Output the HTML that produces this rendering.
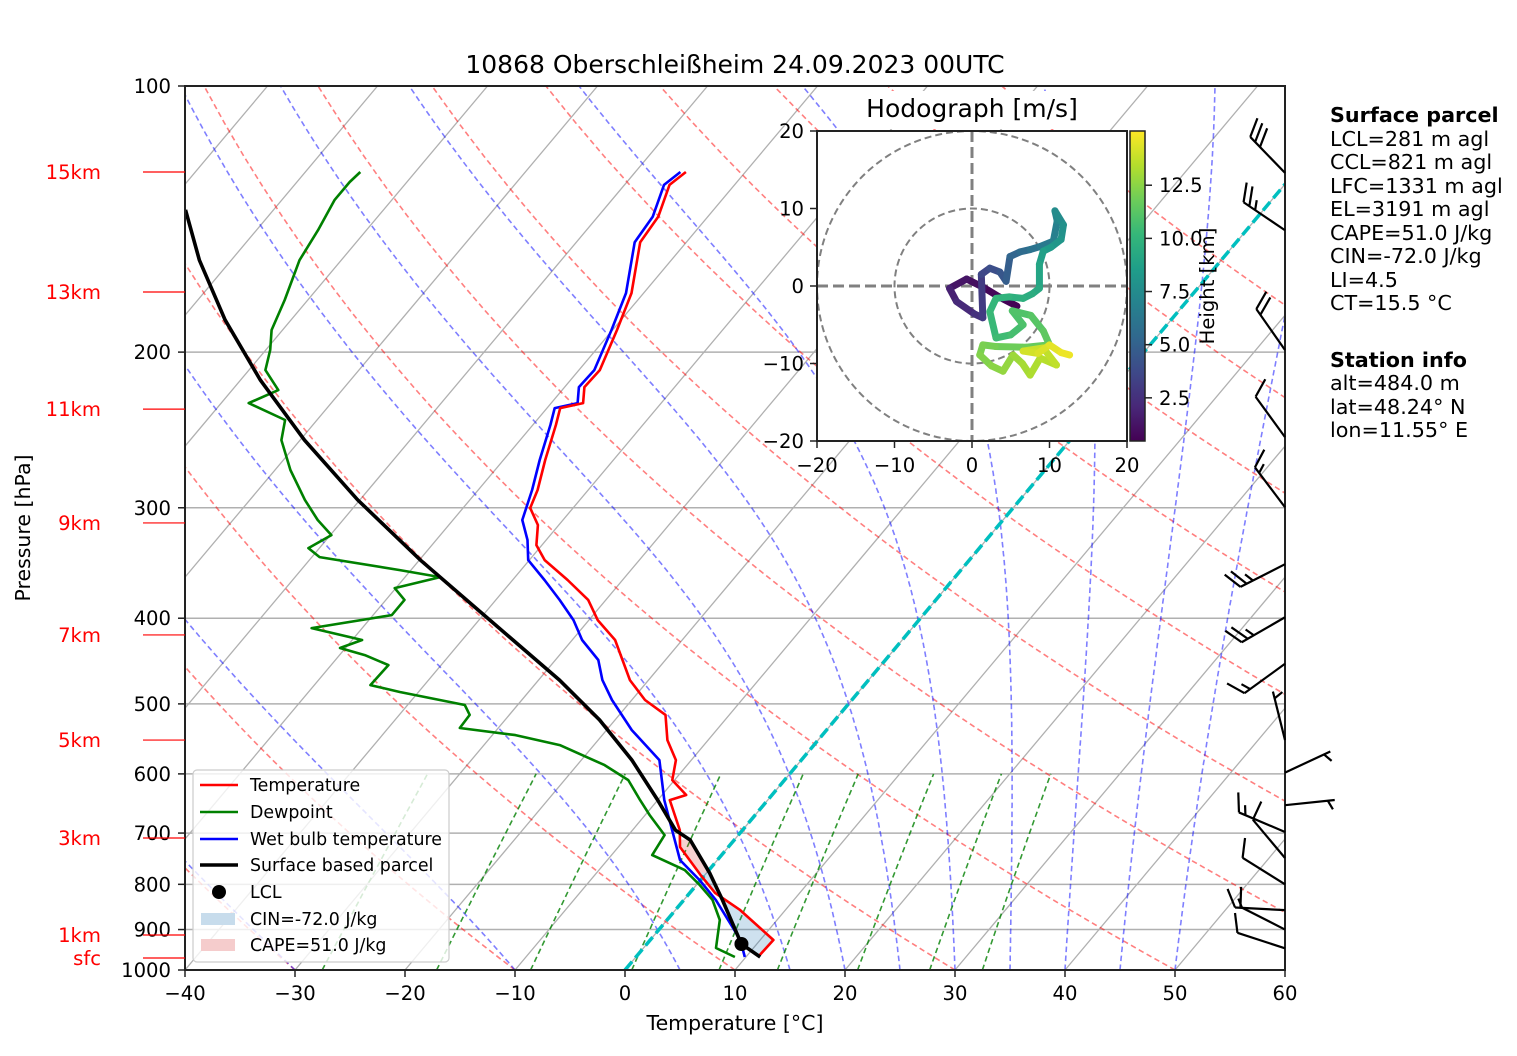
<!DOCTYPE html>
<html><head><meta charset="utf-8"><style>
body{margin:0;background:#fff;}
svg{display:block;font-family:"DejaVu Sans","Liberation Sans",sans-serif;}
</style></head><body>
<svg id="chart" width="1517" height="1056" viewBox="0 0 1517 1056" xmlns="http://www.w3.org/2000/svg">
<defs><clipPath id="plotclip"><rect x="185" y="86" width="1100" height="884"/></clipPath></defs>
<rect x="0" y="0" width="1517" height="1056" fill="#fff"/>
<g id="bg" clip-path="url(#plotclip)"></g>
<g id="marks" clip-path="url(#plotclip)"></g>
<rect x="185" y="86" width="1100" height="884" fill="none" stroke="#222" stroke-width="2"/>
<g id="axes"></g>
<text x="735" y="73" text-anchor="middle" font-size="25">10868 Oberschleißheim 24.09.2023 00UTC</text>
<text x="735" y="1030" text-anchor="middle" font-size="20.5">Temperature [°C]</text>
<text transform="translate(30,528) rotate(-90)" text-anchor="middle" font-size="20.5">Pressure [hPa]</text>
<g id="legend" font-size="17.4">
<rect x="193" y="770" width="256" height="192" rx="4" fill="#fff" fill-opacity="0.8" stroke="#ccc" stroke-width="1.2"/>
<g><line x1="200" y1="785" x2="238" y2="785" stroke="#f00" stroke-width="2.5"/><text x="250" y="791">Temperature</text></g>
<g><line x1="200" y1="812" x2="238" y2="812" stroke="#008000" stroke-width="2.5"/><text x="250" y="818">Dewpoint</text></g>
<g><line x1="200" y1="839" x2="238" y2="839" stroke="#00f" stroke-width="2.5"/><text x="250" y="845">Wet bulb temperature</text></g>
<g><line x1="200" y1="865" x2="238" y2="865" stroke="#000" stroke-width="3.5"/><text x="250" y="871">Surface based parcel</text></g>
<g><circle cx="219" cy="892" r="7" fill="#000"/><text x="250" y="898">LCL</text></g>
<g><rect x="201" y="913" width="34" height="12" fill="#c7dcec"/><text x="250" y="925">CIN=-72.0 J/kg</text></g>
<g><rect x="201" y="939" width="34" height="12" fill="#f5cccc"/><text x="250" y="951">CAPE=51.0 J/kg</text></g>
</g>
<g id="barbs"></g>
<g id="hodo"></g>
<g font-size="20.7">
<text x="1330" y="122" font-weight="bold">Surface parcel</text>
<text x="1330" y="146">LCL=281 m agl</text>
<text x="1330" y="169">CCL=821 m agl</text>
<text x="1330" y="193">LFC=1331 m agl</text>
<text x="1330" y="216">EL=3191 m agl</text>
<text x="1330" y="240">CAPE=51.0 J/kg</text>
<text x="1330" y="263">CIN=-72.0 J/kg</text>
<text x="1330" y="287">LI=4.5</text>
<text x="1330" y="310">CT=15.5 °C</text>
<text x="1330" y="367" font-weight="bold">Station info</text>
<text x="1330" y="390">alt=484.0 m</text>
<text x="1330" y="414">lat=48.24° N</text>
<text x="1330" y="437">lon=11.55° E</text>
</g>
</svg>
<script>
// ---- data ----
const tempP = [966.7,924.9,855.6,818,780.6,725.8,694.6,642.4,634,609.8,578.8,549.4,514.6,495,469.9,446,423.4,402,381.4,362.1,343.8,330.6,313.8,300.2,286.4,264.9,241.8,231.4,228.4,219.1,209.6,188.8,171.5,150.2,140.6,129.4,125.1];
const tempT = [11.1,11.2,5.9,2.3,-0.4,-4.4,-5.7,-8.9,-7.8,-10.2,-11.4,-13.7,-15.8,-18.8,-21.7,-23.9,-26.1,-29.2,-31.6,-35,-38.6,-40.5,-41.9,-43.9,-44.6,-46.2,-47.9,-48.8,-47.1,-48.2,-48.1,-49.6,-51.1,-54.2,-54.5,-55.9,-55.4];
const wetP = [966.7,924.9,833,791,750.8,694.6,642.4,578.8,535.3,495,469.9,446,423.4,402,381.4,362.1,343.8,326.3,309.7,286.4,264.9,241.8,231.4,228.4,219.1,209.6,188.8,171.5,150.2,140.6,129.4,125.1];
const wetT = [9.9,8.2,2.9,-0.1,-3.4,-6.4,-9.4,-12.9,-17.7,-21.8,-24.2,-26.1,-29.1,-31.4,-34.2,-37.1,-40.1,-41.7,-43.7,-45.1,-46.7,-48.4,-49.3,-47.6,-48.7,-48.6,-50.1,-51.6,-54.7,-55,-56.4,-55.9];
const dewP = [966.7,944.4,877.9,833,801.4,770.8,741.3,703.8,667.9,642.4,609.8,586.4,556.6,542.3,532.4,514.6,501.4,484.8,476.1,451.9,440.3,432.3,423.4,410.4,396.8,381.4,369.8,359.4,352.9,341.1,333.2,322.1,309.7,293.9,271.9,251.5,238.7,228.4,220.8,209.6,198.9,188.8,174.6,157.4,145.6,134.6,128.4,125.1];
const dewT = [9.0,6.6,4.8,2.6,0.3,-2.2,-6.3,-6.7,-9.6,-11.6,-14.2,-17.5,-23.1,-27.9,-33.5,-33.6,-34.8,-41.7,-44.9,-44.8,-47.7,-50.5,-49.1,-54.6,-48.3,-48.3,-50.1,-46.8,-51,-59.3,-61,-59.9,-62.3,-65,-68.6,-71.7,-72.9,-77.5,-75.8,-78.5,-79.6,-81,-82.1,-83.8,-84.4,-85.2,-85.2,-85];
const parcelP = [966.7,934.5,833,776.9,712.8,694.6,642.4,578.8,521.4,469.9,402,343.8,293.9,251.5,215.1,183.9,157.4,138.1];
const parcelT = [11.3,8.6,3.5,0.3,-4,-6.1,-10,-15.4,-21.4,-28.1,-39,-49.9,-60.2,-69.6,-78.2,-86,-92.9,-98];
const lclP = 934.5, lclT = 8.6;
const pTicks = [100,200,300,400,500,600,700,800,900,1000];
const tTicks = [-40,-30,-20,-10,0,10,20,30,40,50,60];
const kmLabels = ['15km','13km','11km','9km','7km','5km','3km','1km','sfc'];
const kmP = [125.1,171.0,232.0,312.1,417.8,549.4,709.1,912.8,969.2];
const barbP = [125.4,145.6,198.9,249.6,299.6,347.5,399,450.4,549.4,598,651,698,747,800,855.6,900,945];
const barbAng = [-134,-146,-125,-126,-127,153,150,144,-104,-25,-6,-157,-130,-148,-177,-153,-162];
const barbSpd = [30,25,20,10,15,25,25,15,5,5,5,15,10,10,15,10,10];
const hodoU = [5.8,3.5,1.5,-0.7,-2.9,-2.0,0.3,1.4,1.2,2.3,3.6,4.4,4.9,6.2,7.5,8.8,10.5,11,10.7,11.8,11.5,10.2,9.2,8.7,8.7,7.8,6.6,4.8,3.1,2.3,3.1,5,6.6,5.2,7.6,9.2,10,7,3,1.4,1,2.5,4,5.3,6.5,7.5,8.8,10.9,9.2,6.6,8.5,10,11.5,12.6];
const hodoV = [-2.6,-1.4,-0.2,0.9,-0.3,-2,-3.6,-4.1,1.5,2.3,1.8,0.6,3.8,4.4,4.7,5.1,5.8,8.4,9.7,7.9,6,5,4.5,2.8,-0.3,-1,-1.6,-1.4,-1.6,-3.3,-6.7,-6.3,-5,-3.2,-3.8,-5.8,-7.6,-7.9,-7.8,-7.6,-8.9,-10.3,-11,-8.9,-10,-11.5,-9.3,-10.2,-8,-8.4,-8.7,-7.6,-8.6,-8.9];
const hodoH = [0.5,0.7,1.0,1.3,1.8,2.2,2.6,3.0,3.6,4.0,4.4,4.8,5.2,5.6,6.0,6.4,6.8,7.2,7.5,7.8,8.1,8.4,8.7,9.0,9.3,9.5,9.7,9.9,10.1,10.3,10.5,10.7,10.9,11.0,11.2,11.4,11.6,11.8,12.0,12.1,12.3,12.5,12.7,12.9,13.1,13.3,13.5,13.7,13.9,14.1,14.3,14.5,14.7,14.9];
const cbTicks = [2.5,5.0,7.5,10.0,12.5];
const hodoTicks = [-20,-10,0,10,20];
const dryT0 = [-30,-10,10,30,50,70,90,110,130,150,170,190];
const moistT0 = [-30,-10,5,15,20,25,30,35,40,45,50];
const mixW = [0.0004,0.001,0.002,0.004,0.007,0.01,0.016,0.024,0.032];

// ---- scales ----
const X0=185, XW=1100, Y0=86, YH=884, SK=0.84;
function yOf(p){return Y0+YH*Math.log10(p/100);}
function xOf(T,p){return X0+(T+40)*11+(970-yOf(p))*SK;}
const NS='http://www.w3.org/2000/svg';
function mk(tag,attrs,parent){const e=document.createElementNS(NS,tag);for(const k in attrs)e.setAttribute(k,attrs[k]);parent.appendChild(e);return e;}
const bg=document.getElementById('bg'), marks=document.getElementById('marks'), axes=document.getElementById('axes');
function pathFrom(Ts,Ps){return Ts.map((t,i)=>(i?'L':'M')+xOf(t,Ps[i]).toFixed(1)+','+yOf(Ps[i]).toFixed(1)).join('');}

pTicks.forEach(p=>{const l=mk('line',{x1:X0,x2:X0+XW,y1:yOf(p),y2:yOf(p),stroke:'#b0b0b0','stroke-width':1.5},bg);

});
for(let t=-170;t<=60;t+=10){const l=mk('line',{x1:xOf(t,1000),y1:yOf(1000),x2:xOf(t,100),y2:yOf(100),stroke:'#b0b0b0','stroke-width':1.3},bg);

}
dryT0.forEach(t0=>{const th=t0+273.15;const Ts=[],Ps=[];for(let p=1000;p>=100;p-=10){Ps.push(p);Ts.push(th*Math.pow(p/1000,0.2857)-273.15);}
const e=mk('path',{d:pathFrom(Ts,Ps),fill:'none',stroke:'#ff0000','stroke-opacity':0.5,'stroke-width':1.6,'stroke-dasharray':'5.5,3.5'},bg);

});
moistT0.forEach(t0=>{let T=t0+273.15;const Ts=[],Ps=[];const Rd=287.04,Cp=1005.7,Lv=2.501e6,eps=0.622;
for(let p=1000;p>=100;p-=2){Ps.push(p);Ts.push(T-273.15);const es=6.112*Math.exp(17.67*(T-273.15)/(T-29.65));const rs=eps*es/(p-es);
const dTdp=(Rd*T+Lv*rs)/(Cp+Lv*Lv*rs*eps/(Rd*T*T))/p;T-=dTdp*2;}
const e=mk('path',{d:pathFrom(Ts,Ps),fill:'none',stroke:'#0000ff','stroke-opacity':0.5,'stroke-width':1.6,'stroke-dasharray':'5.5,3.5'},bg);

});
mixW.forEach(w=>{const Ts=[],Ps=[];for(let p=1000;p>=600;p-=20){const e=p*w/(0.622+w);const l=Math.log(e/6.112);Ps.push(p);Ts.push(243.5*l/(17.67-l));}
const e=mk('path',{d:pathFrom(Ts,Ps),fill:'none',stroke:'#008000','stroke-opacity':0.8,'stroke-width':1.6,'stroke-dasharray':'5.5,3.5'},bg);

});
{const e=mk('line',{x1:xOf(0,1000),y1:yOf(1000),x2:xOf(0,100),y2:yOf(100),stroke:'#00bfbf','stroke-width':3.5,'stroke-dasharray':'11,5'},bg);

}

function interp(Ps,Ts,p){for(let i=0;i<Ps.length-1;i++){if(p<=Ps[i]&&p>=Ps[i+1]){const f=(Ps[i]-p)/(Ps[i]-Ps[i+1]);return Ts[i]+f*(Ts[i+1]-Ts[i]);}}return Ts[Ts.length-1];}
{let up='',down=[];for(let p=966;p>=776;p-=5){up+=(up?'L':'M')+xOf(interp(parcelP,parcelT,p),p).toFixed(1)+','+yOf(p).toFixed(1);down.push('L'+xOf(interp(tempP,tempT,p),p).toFixed(1)+','+yOf(p).toFixed(1));}
const e=mk('path',{d:up+down.reverse().join('')+'Z',fill:'#1f77b4','fill-opacity':0.22,stroke:'none'},marks);

}
{let up='',down=[];for(let p=776;p>=712;p-=4){up+=(up?'L':'M')+xOf(interp(parcelP,parcelT,p),p).toFixed(1)+','+yOf(p).toFixed(1);down.push('L'+xOf(interp(tempP,tempT,p),p).toFixed(1)+','+yOf(p).toFixed(1));}
const e=mk('path',{d:up+down.reverse().join('')+'Z',fill:'#d62728','fill-opacity':0.22,stroke:'none'},marks);

}

{const e=mk('path',{d:pathFrom(dewT,dewP),fill:'none',stroke:'#008000','stroke-width':2.6,'stroke-linejoin':'round'},marks);

}
{const e=mk('path',{d:pathFrom(wetT,wetP),fill:'none',stroke:'#0000ff','stroke-width':2.6,'stroke-linejoin':'round'},marks);

}
{const e=mk('path',{d:pathFrom(tempT,tempP),fill:'none',stroke:'#ff0000','stroke-width':2.6,'stroke-linejoin':'round'},marks);

}
{const e=mk('path',{d:pathFrom(parcelT,parcelP),fill:'none',stroke:'#000','stroke-width':3.6},marks);

}
{const e=mk('circle',{cx:xOf(lclT,lclP),cy:yOf(lclP),r:7,fill:'#000'},marks);

}

pTicks.forEach(p=>{mk('line',{x1:178,x2:185,y1:yOf(p),y2:yOf(p),stroke:'#222','stroke-width':1.5},axes);
const t=mk('text',{x:171,y:yOf(p)+7,'text-anchor':'end','font-size':19.6},axes);t.textContent=p;

});
tTicks.forEach(v=>{const x=X0+(v+40)*11;mk('line',{x1:x,x2:x,y1:970,y2:977,stroke:'#222','stroke-width':1.5},axes);
const t=mk('text',{x:x,y:1000,'text-anchor':'middle','font-size':19.6},axes);t.textContent=(v<0?'\u2212':'')+Math.abs(v);

});
kmLabels.forEach((s,i)=>{const y=yOf(kmP[i]);mk('line',{x1:143,x2:185,y1:y,y2:y,stroke:'#f00','stroke-width':1.2},axes);
const t=mk('text',{x:101,y:y+7,'text-anchor':'end','font-size':19.6,fill:'#f00'},axes);t.textContent=s;

});

const barbs=document.getElementById('barbs');
barbP.forEach((p,i)=>{const bx=1285,by=yOf(p),a=barbAng[i]*Math.PI/180,L=50;
const tx=bx+L*Math.cos(a),ty=by+L*Math.sin(a);
const g=mk('g',{stroke:'#000','stroke-width':2.2,fill:'none'},barbs);


mk('line',{x1:bx,y1:by,x2:tx,y2:ty},g);
const ba=a+65*Math.PI/180;let s=barbSpd[i],k=0;
while(s>=10){const px=tx-k*7*Math.cos(a),py=ty-k*7*Math.sin(a);mk('line',{x1:px,y1:py,x2:px+20*Math.cos(ba),y2:py+20*Math.sin(ba)},g);s-=10;k++;}
if(s>=5){if(k===0)k=1;const px=tx-k*7*Math.cos(a),py=ty-k*7*Math.sin(a);mk('line',{x1:px,y1:py,x2:px+10*Math.cos(ba),y2:py+10*Math.sin(ba)},g);}
});

const hodo=document.getElementById('hodo');
const HX=972,HY=286,HS=7.75;
mk('rect',{x:817,y:131,width:310,height:310,fill:'#fff'},hodo);
mk('rect',{x:858,y:91,width:229,height:38,fill:'#fff'},hodo);
{const t=mk('text',{x:972,y:117,'text-anchor':'middle','font-size':25},hodo);t.textContent='Hodograph [m/s]';

}
[10,20].forEach(r=>{mk('circle',{cx:HX,cy:HY,r:r*HS,fill:'none',stroke:'#808080','stroke-width':2,'stroke-dasharray':'7,4'},hodo);});
mk('line',{x1:817,x2:1127,y1:HY,y2:HY,stroke:'#808080','stroke-width':3,'stroke-dasharray':'11,5'},hodo);
mk('line',{x1:HX,x2:HX,y1:131,y2:441,stroke:'#808080','stroke-width':3,'stroke-dasharray':'11,5'},hodo);
const vir=[[68,1,84],[72,40,120],[62,73,137],[49,104,142],[38,130,142],[31,158,137],[53,183,121],[109,205,89],[180,222,44],[253,231,37]];
function viridis(f){f=Math.max(0,Math.min(1,f));const s=f*(vir.length-1),i=Math.min(vir.length-2,Math.floor(s)),r=s-i;const c=vir[i].map((v,j)=>Math.round(v+r*(vir[i+1][j]-v)));return 'rgb('+c.join(',')+')';}
const hMin=0.47,hMax=15.05;
for(let i=0;i<hodoU.length-1;i++){const e=mk('line',{x1:HX+hodoU[i]*HS,y1:HY-hodoV[i]*HS,x2:HX+hodoU[i+1]*HS,y2:HY-hodoV[i+1]*HS,stroke:viridis((hodoH[i]-hMin)/(hMax-hMin)),'stroke-width':7,'stroke-linecap':'round'},hodo);

}
mk('rect',{x:817,y:131,width:310,height:310,fill:'none',stroke:'#222','stroke-width':2},hodo);
hodoTicks.forEach(v=>{const x=HX+v*HS,y=HY-v*HS;
mk('line',{x1:x,x2:x,y1:441,y2:448,stroke:'#222','stroke-width':1.5},hodo);
mk('line',{x1:810,x2:817,y1:y,y2:y,stroke:'#222','stroke-width':1.5},hodo);
const lab=(v<0?'\u2212':'')+Math.abs(v);
const t1=mk('text',{x:x,y:472,'text-anchor':'middle','font-size':19.6},hodo);t1.textContent=lab;


const t2=mk('text',{x:804,y:y+7,'text-anchor':'end','font-size':19.6},hodo);t2.textContent=lab;

});
{const gr=mk('linearGradient',{id:'vg',x1:0,y1:1,x2:0,y2:0},document.querySelector('defs'));
vir.forEach((c,i)=>mk('stop',{offset:(i/(vir.length-1)).toFixed(3),'stop-color':'rgb('+c.join(',')+')'},gr));
const cb=mk('rect',{x:1130,y:131,width:15,height:310,fill:'url(#vg)',stroke:'#222','stroke-width':1.5},hodo);


cbTicks.forEach(v=>{const y=441-(v-hMin)/(hMax-hMin)*310;mk('line',{x1:1145,x2:1152,y1:y,y2:y,stroke:'#222','stroke-width':1.5},hodo);
const t=mk('text',{x:1159,y:y+7,'font-size':19.6},hodo);t.textContent=v.toFixed(1);

});
const t=mk('text',{transform:'translate(1214,286) rotate(-90)','text-anchor':'middle','font-size':19.6},hodo);t.textContent='Height [km]';

}
</script>
</body></html>
